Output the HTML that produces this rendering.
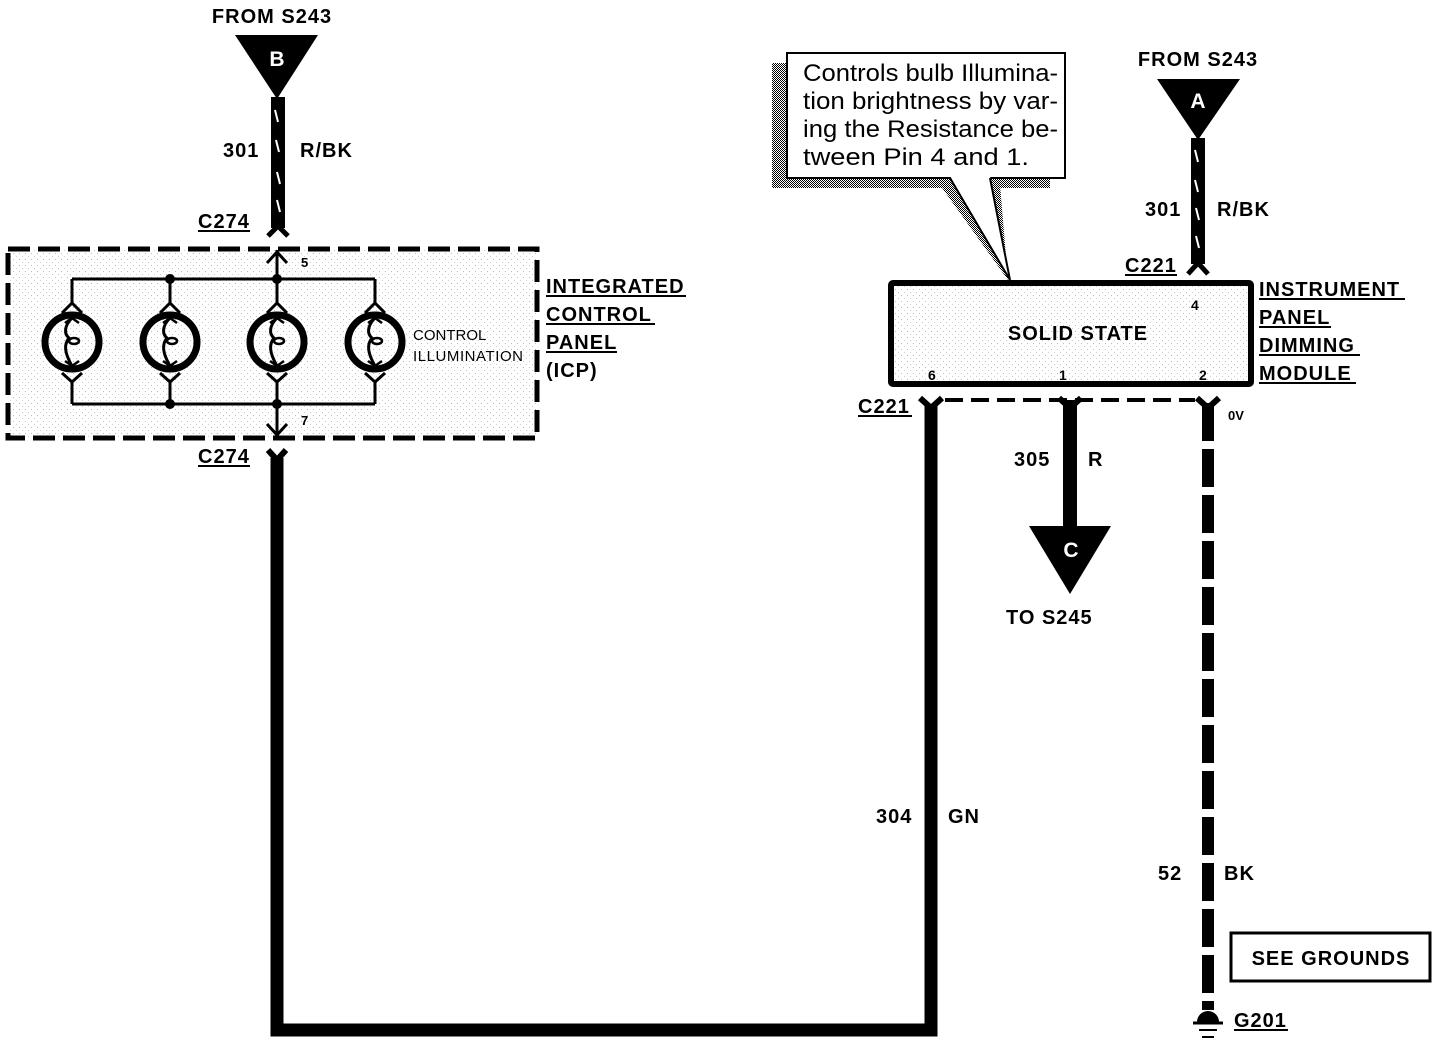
<!DOCTYPE html>
<html><head><style>
html,body{margin:0;padding:0;background:#fff;}
svg{display:block;font-family:"Liberation Sans",Arial,sans-serif;}
.b{font-weight:bold;font-size:20px;letter-spacing:1px;}
</style></head><body>
<svg width="1438" height="1056" viewBox="0 0 1438 1056">
<defs>
<pattern id="dots" width="6" height="6" patternUnits="userSpaceOnUse"><rect width="6" height="6" fill="#fff"/><rect x="1" y="1" width="1" height="1" fill="#bbb"/><rect x="4" y="4" width="1" height="1" fill="#ccc"/></pattern>
<pattern id="shade" width="2" height="2" patternUnits="userSpaceOnUse"><rect width="2" height="2" fill="#fff"/><rect width="1" height="1" fill="#000"/><rect x="1" y="1" width="1" height="1" fill="#000"/></pattern>
<g id="bulb">
<line x1="0" y1="-63" x2="0" y2="-38" stroke="#000" stroke-width="3"/>
<path d="M-10,-29 L0,-39 L10,-29" fill="none" stroke="#000" stroke-width="3"/>
<circle cx="0" cy="0" r="27" fill="none" stroke="#000" stroke-width="7"/>
<path d="M0,-24 C-8,-16 -8,-8 -3,-4 C-8,2 -8,10 0,24" fill="none" stroke="#000" stroke-width="3"/>
<ellipse cx="2" cy="-1" rx="5" ry="3" fill="none" stroke="#000" stroke-width="2.5"/>
<path d="M-7,-19 L0,-24 L7,-19 M-7,19 L0,24 L7,19" fill="none" stroke="#000" stroke-width="2.5"/>
<path d="M-10,31 L0,40 L10,31" fill="none" stroke="#000" stroke-width="3"/>
<line x1="0" y1="40" x2="0" y2="62" stroke="#000" stroke-width="3"/>
</g>
</defs>

<!-- LEFT TOP -->
<text x="272" y="23" class="b" text-anchor="middle">FROM S243</text>
<polygon points="235,35 318,35 277,99" fill="#000"/>
<text x="277" y="66" font-size="21" font-weight="bold" fill="#fff" text-anchor="middle">B</text>
<rect x="271" y="97" width="14" height="131" fill="#000"/>
<path d="M275,110 l3,12 M276,140 l3,12 M277,172 l3,12 M277,200 l3,12" stroke="#fff" stroke-width="2"/>
<path d="M268,236 L278,226 L288,236" fill="none" stroke="#000" stroke-width="5"/>
<text x="223" y="157" class="b">301</text>
<text x="300" y="157" class="b">R/BK</text>
<text x="198" y="228" class="b">C274</text>
<line x1="198" y1="231" x2="250" y2="231" stroke="#000" stroke-width="2"/>

<!-- ICP box -->
<rect x="8" y="249" width="529" height="189" fill="url(#dots)" stroke="#000" stroke-width="5" stroke-dasharray="22,8"/>
<line x1="72" y1="279" x2="375" y2="279" stroke="#000" stroke-width="3"/>
<line x1="72" y1="404" x2="375" y2="404" stroke="#000" stroke-width="3"/>
<line x1="277" y1="250" x2="277" y2="279" stroke="#000" stroke-width="3"/>
<path d="M267,263 L277,252 L287,263" fill="none" stroke="#000" stroke-width="3"/>
<line x1="277" y1="404" x2="277" y2="437" stroke="#000" stroke-width="3"/>
<path d="M267,424 L277,435 L287,424" fill="none" stroke="#000" stroke-width="3"/>
<circle cx="170" cy="279" r="5"/><circle cx="277" cy="279" r="5"/>
<circle cx="170" cy="404" r="5"/><circle cx="277" cy="404" r="5"/>
<use href="#bulb" x="72" y="342"/>
<use href="#bulb" x="170" y="342"/>
<use href="#bulb" x="277" y="342"/>
<use href="#bulb" x="375" y="342"/>
<text x="301" y="267" font-size="13" font-weight="bold">5</text>
<text x="301" y="425" font-size="13" font-weight="bold">7</text>
<text x="413" y="340" font-size="15">CONTROL</text>
<text x="413" y="361" font-size="15" textLength="110">ILLUMINATION</text>
<text x="546" y="293" class="b">INTEGRATED</text>
<text x="546" y="321" class="b">CONTROL</text>
<text x="546" y="349" class="b">PANEL</text>
<text x="546" y="377" class="b">(ICP)</text>
<g stroke="#000" stroke-width="2"><line x1="546" y1="296" x2="686" y2="296"/><line x1="546" y1="324" x2="655" y2="324"/><line x1="546" y1="352" x2="617" y2="352"/></g>
<text x="198" y="463" class="b">C274</text>
<line x1="198" y1="466" x2="250" y2="466" stroke="#000" stroke-width="2"/>
<path d="M268,450 L277,460 L286,450" fill="none" stroke="#000" stroke-width="6"/>
<path d="M277,458 L277,1030 L931,1030 L931,405" fill="none" stroke="#000" stroke-width="13"/>
<text x="876" y="823" class="b">304</text>
<text x="948" y="823" class="b">GN</text>

<!-- callout -->
<rect x="772" y="63" width="278" height="125" fill="url(#shade)"/>
<polygon points="940,185 1000,185 1008,280" fill="url(#shade)"/>
<rect x="787" y="53" width="278" height="125" fill="#fff" stroke="#000" stroke-width="2"/>
<polygon points="950,176 990,176 1010,280" fill="#fff"/>
<polyline points="950,178 1010,280 990,178" fill="none" stroke="#000" stroke-width="2"/>
<g font-size="24">
<text x="803" y="81" textLength="255" lengthAdjust="spacingAndGlyphs">Controls bulb Illumina-</text>
<text x="803" y="109" textLength="255" lengthAdjust="spacingAndGlyphs">tion brightness by var-</text>
<text x="803" y="137" textLength="255" lengthAdjust="spacingAndGlyphs">ing the Resistance be-</text>
<text x="803" y="165" textLength="226" lengthAdjust="spacingAndGlyphs">tween Pin 4 and 1.</text>
</g>

<!-- A -->
<text x="1198" y="66" class="b" text-anchor="middle">FROM S243</text>
<polygon points="1157,79 1240,79 1198,140" fill="#000"/>
<text x="1198" y="108" font-size="21" font-weight="bold" fill="#fff" text-anchor="middle">A</text>
<rect x="1191" y="138" width="14" height="126" fill="#000"/>
<path d="M1195,150 l3,12 M1195,180 l3,12 M1196,208 l3,12 M1196,236 l3,12" stroke="#fff" stroke-width="2"/>
<path d="M1188,274 L1198,263 L1208,274" fill="none" stroke="#000" stroke-width="5"/>
<text x="1145" y="216" class="b">301</text>
<text x="1217" y="216" class="b">R/BK</text>
<text x="1125" y="272" class="b">C221</text>
<line x1="1125" y1="275" x2="1177" y2="275" stroke="#000" stroke-width="2"/>

<!-- module -->
<rect x="891" y="283" width="360" height="101" fill="url(#dots)" stroke="#000" stroke-width="6" rx="2"/>
<text x="1078" y="340" class="b" text-anchor="middle">SOLID STATE</text>
<text x="1191" y="310" font-size="14" font-weight="bold">4</text>
<text x="928" y="380" font-size="14" font-weight="bold">6</text>
<text x="1059" y="380" font-size="14" font-weight="bold">1</text>
<text x="1199" y="380" font-size="14" font-weight="bold">2</text>
<text x="1259" y="296" class="b">INSTRUMENT</text>
<text x="1259" y="324" class="b">PANEL</text>
<text x="1259" y="352" class="b">DIMMING</text>
<text x="1259" y="380" class="b">MODULE</text>
<g stroke="#000" stroke-width="2"><line x1="1259" y1="299" x2="1405" y2="299"/><line x1="1259" y1="327" x2="1331" y2="327"/><line x1="1259" y1="355" x2="1360" y2="355"/><line x1="1259" y1="383" x2="1356" y2="383"/></g>

<text x="858" y="413" class="b">C221</text>
<line x1="858" y1="416" x2="912" y2="416" stroke="#000" stroke-width="2"/>
<line x1="945" y1="400" x2="1195" y2="400" stroke="#000" stroke-width="4" stroke-dasharray="18,8"/>
<path d="M920,398 L931,408 L942,398 M1059,398 L1070,408 L1081,398 M1197,398 L1208,408 L1219,398" fill="none" stroke="#000" stroke-width="6"/>
<rect x="1063" y="400" width="14" height="130" fill="#000"/>
<polygon points="1029,526 1111,526 1070,594" fill="#000"/>
<text x="1071" y="557" font-size="21" font-weight="bold" fill="#fff" text-anchor="middle">C</text>
<text x="1014" y="466" class="b">305</text>
<text x="1088" y="466" class="b">R</text>
<text x="1006" y="624" class="b">TO S245</text>

<line x1="1208" y1="403" x2="1208" y2="1010" stroke="#000" stroke-width="12" stroke-dasharray="38,8"/>
<text x="1228" y="420" font-size="13" font-weight="bold">0V</text>
<text x="1158" y="880" class="b">52</text>
<text x="1224" y="880" class="b">BK</text>
<rect x="1231" y="933" width="199" height="48" fill="#fff" stroke="#000" stroke-width="3"/>
<text x="1331" y="965" class="b" text-anchor="middle">SEE GROUNDS</text>
<path d="M1197,1022 A11,11 0 0 1 1219,1022 Z" fill="#000"/>
<line x1="1193" y1="1023" x2="1223" y2="1023" stroke="#000" stroke-width="3"/>
<line x1="1199" y1="1030" x2="1217" y2="1030" stroke="#000" stroke-width="2"/>
<line x1="1202" y1="1037" x2="1214" y2="1037" stroke="#000" stroke-width="2"/>
<text x="1234" y="1027" class="b">G201</text>
<line x1="1234" y1="1030" x2="1288" y2="1030" stroke="#000" stroke-width="2"/>
</svg>
</body></html>
